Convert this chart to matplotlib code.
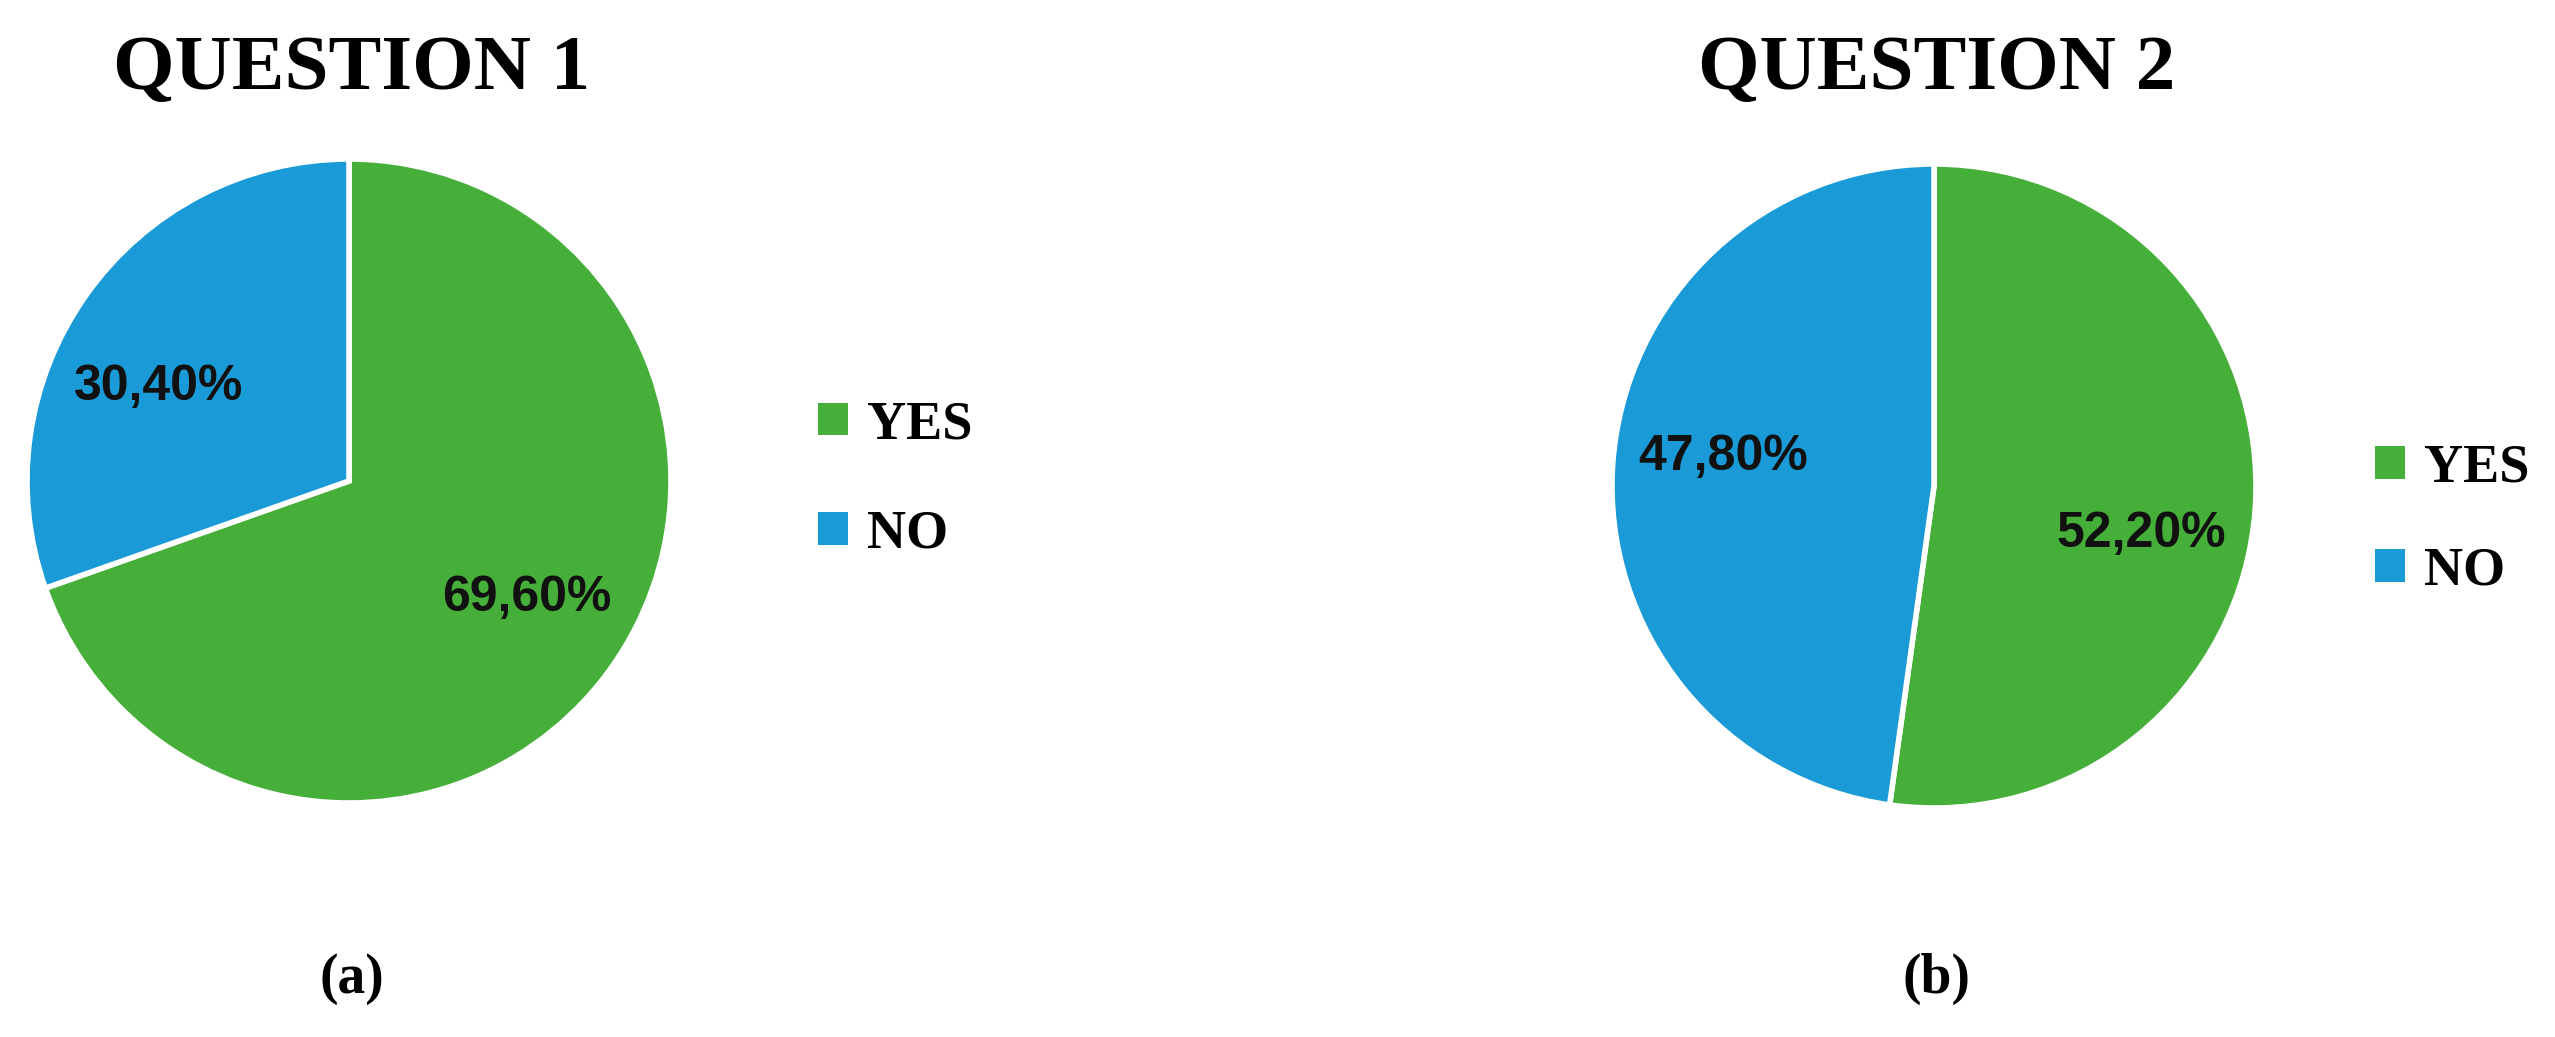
import numpy as np
import matplotlib.pyplot as plt
import matplotlib.patches as mpatches

# data
answers = ["YES", "NO"]
q1_values = [69.6, 30.4]
q2_values = [52.2, 47.8]
titles = ["QUESTION 1", "QUESTION 2"]
panel_tags = ["(a)", "(b)"]
colors = ["#46AF3A", "#1A9BD7"]

W, H = 2555, 1037
DPI = 100

plt.rcParams.update({"font.family": "Liberation Serif"})


def px_axes(fig, cx, cy, r):
    # axes square of side 2r centred on pixel (cx, cy), measured from top-left
    return fig.add_axes([(cx - r) / W, 1 - (cy + r) / H, 2 * r / W, 2 * r / H])


def fmt_pct(p):
    return f"{p:.2f}%".replace(".", ",")


def nudge(text, deg):
    # rotate a percentage label around the pie centre (best-fit look)
    x, y = text.get_position()
    a = np.deg2rad(deg)
    text.set_position((x * np.cos(a) - y * np.sin(a), x * np.sin(a) + y * np.cos(a)))


fig = plt.figure(figsize=(W / DPI, H / DPI), dpi=DPI)

panels = [
    # values, pie centre x, pie centre y, radius, legend x, legend y, labelspacing, label nudges
    (q1_values, 349, 481, 322, 818, 480, 1.1, (2, 9)),
    (q2_values, 1934, 486, 322, 2375, 520, 0.98, (-9, -4)),
]

for i, (vals, cx, cy, r, lx, ly, lsp, nudges) in enumerate(panels):
    pad = 1.02
    ax = px_axes(fig, cx, cy, r * pad)
    wedges, _, autotexts = ax.pie(
        vals,
        colors=colors,
        startangle=90,
        counterclock=False,
        autopct=fmt_pct,
        pctdistance=0.66,
        wedgeprops={"edgecolor": "white", "linewidth": 4},
        textprops={"fontsize": 36, "fontweight": "bold",
                   "family": "Liberation Sans", "color": "#111111"},
    )
    for t, d in zip(autotexts, nudges):
        nudge(t, d)
    ax.set_xlim(-pad, pad)
    ax.set_ylim(-pad, pad)
    ax.set_aspect("equal")

    fig.text(cx + 3, H - 89, titles[i], transform=None, ha="center",
             va="baseline", fontsize=57, fontweight="bold")
    fig.text((cx + 3) / W, 1 - 979 / H, panel_tags[i], ha="center",
             va="center", fontsize=40, fontweight="bold")

    handles = [mpatches.Patch(facecolor=c, edgecolor="none") for c in colors]
    fig.legend(handles, answers, loc="center left",
               bbox_to_anchor=(lx / W, 1 - ly / H),
               frameon=False, prop={"weight": "bold", "size": 39},
               handlelength=0.55, handleheight=0.55, handletextpad=0.35,
               labelspacing=lsp, borderpad=0, borderaxespad=0)

fig.savefig("out.png", dpi=DPI, facecolor="white")
